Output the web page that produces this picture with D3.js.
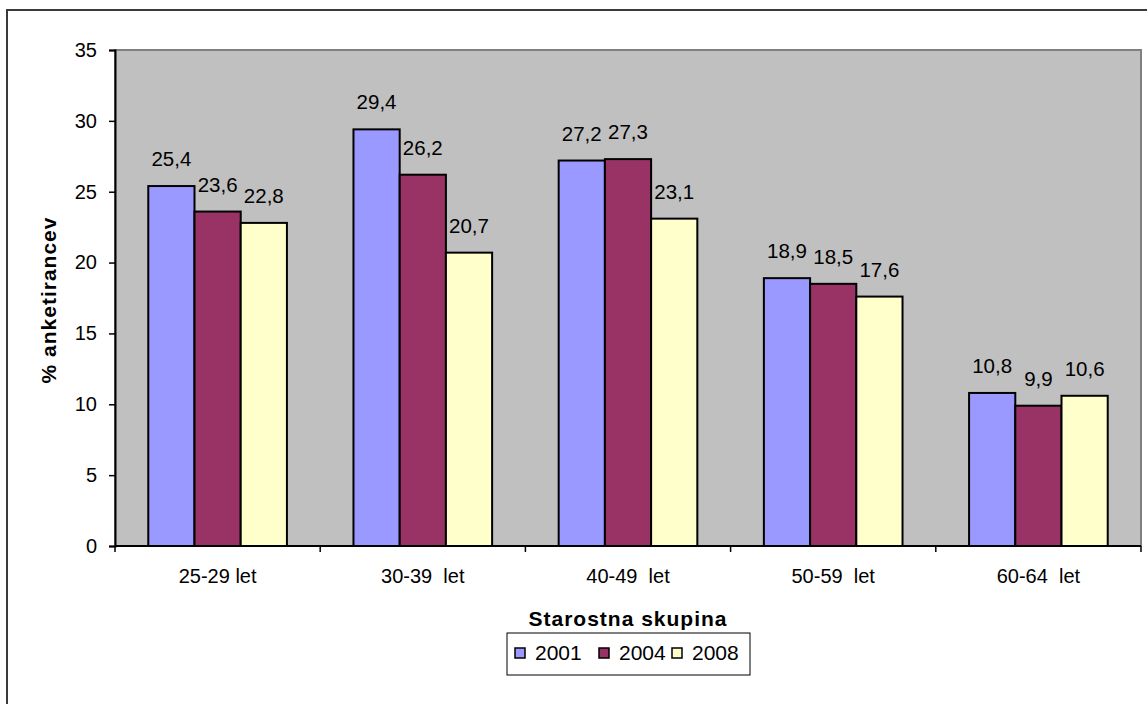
<!DOCTYPE html>
<html>
<head>
<meta charset="utf-8">
<script src="https://cdn.jsdelivr.net/npm/d3@7"></script>
<style>
  html, body { margin: 0; padding: 0; background: #ffffff; }
  svg { display: block; font-family: Arial, "Liberation Sans", sans-serif; }
</style>
</head>
<body>
<svg id="chart" width="1147" height="704"></svg>
<script>
// Age groups and survey shares (% of respondents) per survey year
const categories = ["25-29 let", "30-39  let", "40-49  let", "50-59  let", "60-64  let"];
const seriesNames = ["2001", "2004", "2008"];
const values2001 = [25.4, 29.4, 27.2, 18.9, 10.8];
const values2004 = [23.6, 26.2, 27.3, 18.5, 9.9];
const values2008 = [22.8, 20.7, 23.1, 17.6, 10.6];
const yTicks = [0, 5, 10, 15, 20, 25, 30, 35];
const colors = ["#9999FF", "#993366", "#FFFFCC"];

const seriesValues = [values2001, values2004, values2008];
const fmt = v => String(v.toFixed(1)).replace(".", ",");

const svg = d3.select("#chart");

// outer chart frame (runs off the right and bottom edge)
svg.append("rect")
  .attr("x", 7).attr("y", 10)
  .attr("width", 1160).attr("height", 720)
  .attr("fill", "#ffffff")
  .attr("stroke", "#3a3a3a").attr("stroke-width", 2);

const plot = { left: 115, right: 1141, top: 50, bottom: 546 };

const x0 = d3.scaleBand()
  .domain(categories)
  .range([plot.left, plot.right])
  .padding(0);

const x1 = d3.scaleBand()
  .domain(seriesNames)
  .range([0, x0.bandwidth()])
  .paddingInner(0)
  .paddingOuter(0.72);

const y = d3.scaleLinear()
  .domain([0, 35])
  .range([plot.bottom, plot.top]);

// plot background
svg.append("rect")
  .attr("x", plot.left).attr("y", plot.top)
  .attr("width", plot.right - plot.left).attr("height", plot.bottom - plot.top)
  .attr("fill", "#C0C0C0")
  .attr("stroke", "#808080").attr("stroke-width", 2);

// bars
const groups = svg.append("g").selectAll("g")
  .data(categories)
  .join("g")
  .attr("transform", c => `translate(${x0(c)},0)`);

const cells = groups.selectAll("g")
  .data((c, i) => seriesNames.map((s, k) => ({ s, k, v: seriesValues[k][i] })))
  .join("g");

cells.append("rect")
  .attr("x", d => x1(d.s))
  .attr("y", d => y(d.v))
  .attr("width", x1.bandwidth())
  .attr("height", d => y(0) - y(d.v))
  .attr("fill", d => colors[d.k])
  .attr("stroke", "#000")
  .attr("stroke-width", 2);

// value labels
cells.append("text")
  .attr("x", d => x1(d.s) + x1.bandwidth() / 2)
  .attr("y", d => y(d.v) - 20)
  .attr("text-anchor", "middle")
  .attr("font-size", 20.5)
  .attr("fill", "#000")
  .text(d => fmt(d.v));

// y axis
const yAxis = d3.axisLeft(y)
  .tickValues(yTicks)
  .tickSize(6)
  .tickPadding(12)
  .tickFormat(d3.format("d"));

const gy = svg.append("g")
  .attr("transform", `translate(${plot.left},0)`)
  .call(yAxis);
gy.select(".domain").attr("stroke", "#000").attr("stroke-width", 2);
gy.selectAll(".tick line").attr("stroke", "#000").attr("stroke-width", 1.5);
gy.selectAll(".tick text")
  .attr("font-size", 20).attr("font-family", "Arial, 'Liberation Sans', sans-serif")
  .attr("fill", "#000");

// x axis: ticks sit on category boundaries
const boundaries = categories.map(c => x0(c)).concat([plot.right]);
svg.append("line")
  .attr("x1", plot.left).attr("x2", plot.right)
  .attr("y1", plot.bottom).attr("y2", plot.bottom)
  .attr("stroke", "#000").attr("stroke-width", 2);
svg.append("g").selectAll("line")
  .data(boundaries)
  .join("line")
  .attr("x1", d => d).attr("x2", d => d)
  .attr("y1", plot.bottom).attr("y2", plot.bottom + 6)
  .attr("stroke", "#000").attr("stroke-width", 1.5);

svg.append("g").selectAll("text")
  .data(categories)
  .join("text")
  .attr("x", c => x0(c) + x0.bandwidth() / 2)
  .attr("y", 583)
  .attr("text-anchor", "middle")
  .attr("font-size", 20)
  .style("white-space", "pre")
  .attr("xml:space", "preserve")
  .text(c => c);

// axis titles
svg.append("text")
  .attr("x", 628).attr("y", 626)
  .attr("text-anchor", "middle")
  .attr("font-size", 21)
  .attr("font-weight", "bold")
  .attr("letter-spacing", 1)
  .text("Starostna skupina");

svg.append("text")
  .attr("transform", "translate(56,300) rotate(-90)")
  .attr("text-anchor", "middle")
  .attr("font-size", 21)
  .attr("font-weight", "bold")
  .attr("letter-spacing", 1)
  .text("% anketirancev");

// legend
const legend = svg.append("g");
legend.append("rect")
  .attr("x", 507).attr("y", 633)
  .attr("width", 243).attr("height", 42)
  .attr("fill", "#fff")
  .attr("stroke", "#000").attr("stroke-width", 1);

const legendX = [515, 599, 672];
const items = legend.selectAll("g.item")
  .data(seriesNames)
  .join("g")
  .attr("class", "item")
  .attr("transform", (d, i) => `translate(${legendX[i]},648)`);
items.append("rect")
  .attr("width", 10).attr("height", 10)
  .attr("fill", (d, i) => colors[i])
  .attr("stroke", "#000").attr("stroke-width", 1.5);
items.append("text")
  .attr("x", 20).attr("y", 12)
  .attr("font-size", 21)
  .text(d => d);
</script>
</body>
</html>
